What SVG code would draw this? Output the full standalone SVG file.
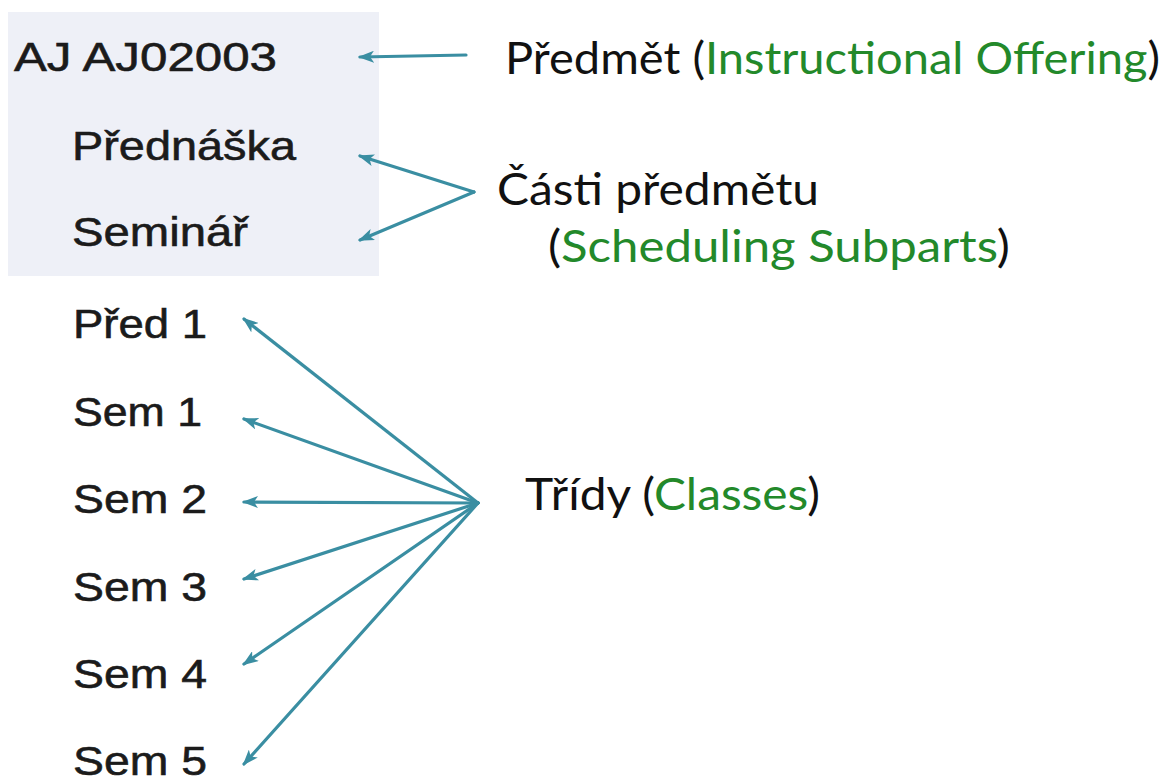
<svg xmlns="http://www.w3.org/2000/svg" width="1167" height="783" viewBox="0 0 1167 783">
<defs>
<marker id="ah" markerUnits="userSpaceOnUse" markerWidth="16" markerHeight="12" refX="14" refY="6" orient="auto" viewBox="0 0 16 12">
<path d="M16,6 L0,0 L4,6 L0,12 Z" fill="#3a8ea2"/>
</marker>
<style>
.l{font-family:"Liberation Sans",Arial,sans-serif;font-size:41px;fill:#1b1b1b;stroke:#1b1b1b;stroke-width:0.6}
.r{font-family:Lato,"Noto Sans",sans-serif;font-size:45px;fill:#111}
.g{fill:#23892a}
.c{fill:none;stroke:#3a8ea2;stroke-width:3.2;stroke-linecap:round;stroke-linejoin:round}
</style>
</defs>
<rect width="1167" height="783" fill="#ffffff"/>
<rect id="panel" x="8" y="12" width="371" height="264" fill="#eef0f7"/>
<g id="n-offering"><text class="l" x="14" y="71" textLength="263" lengthAdjust="spacingAndGlyphs">AJ AJ02003</text></g>
<g id="n-prednaska"><text class="l" x="72" y="160" textLength="224" lengthAdjust="spacingAndGlyphs">Přednáška</text></g>
<g id="n-seminar"><text class="l" x="72" y="246" textLength="176" lengthAdjust="spacingAndGlyphs">Seminář</text></g>
<g id="n-pred1"><text class="l" x="73" y="338" textLength="134" lengthAdjust="spacingAndGlyphs">Před 1</text></g>
<g id="n-sem1"><text class="l" x="73" y="426" textLength="129" lengthAdjust="spacingAndGlyphs">Sem 1</text></g>
<g id="n-sem2"><text class="l" x="73" y="513" textLength="134" lengthAdjust="spacingAndGlyphs">Sem 2</text></g>
<g id="n-sem3"><text class="l" x="73" y="601" textLength="134" lengthAdjust="spacingAndGlyphs">Sem 3</text></g>
<g id="n-sem4"><text class="l" x="73" y="688" textLength="134" lengthAdjust="spacingAndGlyphs">Sem 4</text></g>
<g id="n-sem5"><text class="l" x="73" y="775" textLength="134" lengthAdjust="spacingAndGlyphs">Sem 5</text></g>
<g id="lbl-offering"><text class="r" x="505" y="74" textLength="655" lengthAdjust="spacingAndGlyphs">Předmět (<tspan class="g">Instructional Offering</tspan>)</text></g>
<g id="lbl-subparts">
<text class="r" x="497" y="205" textLength="322" lengthAdjust="spacingAndGlyphs">Části předmětu</text>
<text class="r" x="548" y="262" textLength="462" lengthAdjust="spacingAndGlyphs">(<tspan class="g">Scheduling Subparts</tspan>)</text>
</g>
<g id="lbl-classes"><text class="r" x="525" y="510" textLength="295" lengthAdjust="spacingAndGlyphs">Třídy (<tspan class="g">Classes</tspan>)</text></g>
<g id="connectors">
<path class="c" d="M466,55 L360,57" marker-end="url(#ah)"/>
<path class="c" d="M474,192 L360,156" marker-end="url(#ah)"/>
<path class="c" d="M474,192 L360,240" marker-end="url(#ah)"/>
<path class="c" d="M478,503 L244,319" marker-end="url(#ah)"/>
<path class="c" d="M478,503 L244,419" marker-end="url(#ah)"/>
<path class="c" d="M478,503 L244,502" marker-end="url(#ah)"/>
<path class="c" d="M478,503 L244,579" marker-end="url(#ah)"/>
<path class="c" d="M478,503 L244,664" marker-end="url(#ah)"/>
<path class="c" d="M478,503 L244,764" marker-end="url(#ah)"/>
</g>
</svg>
